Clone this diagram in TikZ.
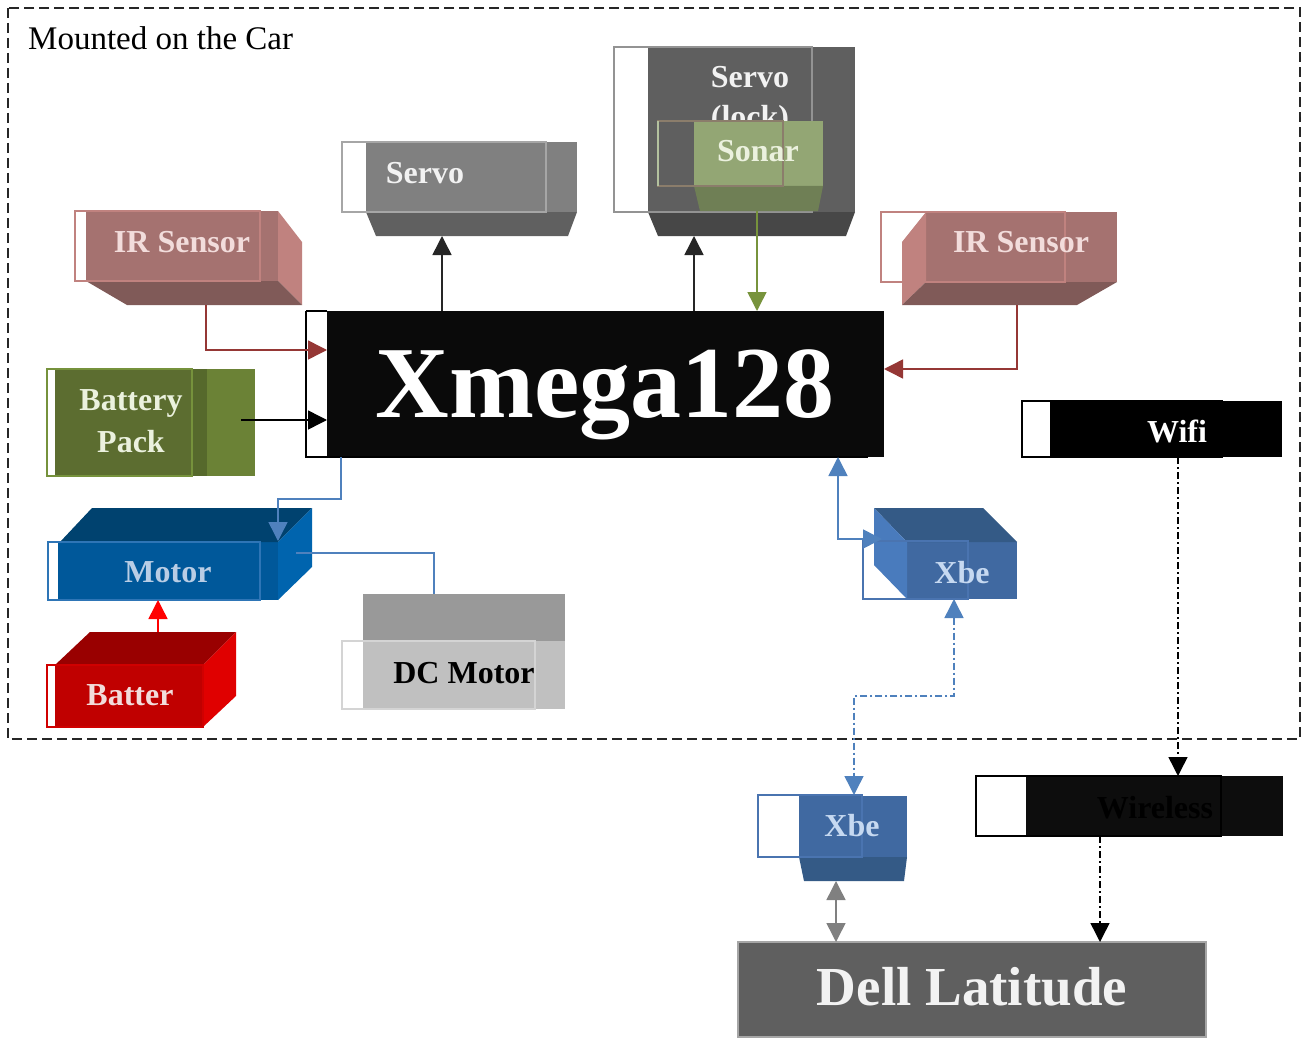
\documentclass[tikz,border=0pt]{standalone}
\usepackage{fontspec}
\setmainfont{Liberation Serif}
\usetikzlibrary{arrows.meta,calc}
\definecolor{gA}{HTML}{808080}
\definecolor{gB}{HTML}{606060}
\definecolor{gC}{HTML}{5F5F5F}
\definecolor{gD}{HTML}{474747}
\definecolor{snA}{HTML}{93A674}
\definecolor{snB}{HTML}{6F7F55}
\definecolor{snO}{HTML}{8B7D6B}
\definecolor{irA}{HTML}{A57270}
\definecolor{irB}{HTML}{C0827F}
\definecolor{irC}{HTML}{805A58}
\definecolor{olA}{HTML}{5C6D30}
\definecolor{olB}{HTML}{56692C}
\definecolor{olC}{HTML}{6B8236}
\definecolor{olO}{HTML}{76923C}
\definecolor{mbA}{HTML}{00426F}
\definecolor{mbB}{HTML}{00589A}
\definecolor{mbC}{HTML}{0064AE}
\definecolor{mbO}{HTML}{2E75B6}
\definecolor{rdA}{HTML}{990000}
\definecolor{rdB}{HTML}{C00000}
\definecolor{rdC}{HTML}{E00000}
\definecolor{rdO}{HTML}{D00000}
\definecolor{dcA}{HTML}{999999}
\definecolor{dcB}{HTML}{C0C0C0}
\definecolor{dcO}{HTML}{D4D4D4}
\definecolor{xbA}{HTML}{345A86}
\definecolor{xbB}{HTML}{4069A1}
\definecolor{xbC}{HTML}{497BBD}
\definecolor{xbO}{HTML}{4A74B0}
\definecolor{lnB}{HTML}{4F81BD}
\definecolor{lnR}{HTML}{953735}
\definecolor{lnG}{HTML}{77933C}
\definecolor{dlO}{HTML}{A6A6A6}
\definecolor{txG}{HTML}{F2F2F2}
\definecolor{txR}{HTML}{F2DCDB}
\definecolor{txO}{HTML}{EBF1DE}
\definecolor{txB}{HTML}{B9CDE5}
\definecolor{txX}{HTML}{C6D9F1}
\begin{document}
\begin{tikzpicture}[x=1pt,y=-1pt,
  lbl/.style={font=\fontsize{32}{38}\selectfont\bfseries, inner sep=0pt, anchor=base},
  blk/.style={draw=none, inner sep=0pt, outer sep=0pt},
  con/.style={line width=1.5pt},
  tipA/.style={-{Triangle[length=19pt,width=19pt]}},
  tipB/.style={{Triangle[length=19pt,width=19pt]}-{Triangle[length=19pt,width=19pt]}},
  dd/.style={dash pattern=on 7pt off 3pt on 2pt off 3pt},
  frame/.style={line width=1.5pt}]
\useasboundingbox (0,0) rectangle (1302,1038);
\fill[white] (0,0) rectangle (1302,1038);

% outer dashed frame
\draw[line width=1.5pt, color=black!85, dash pattern=on 10pt off 5pt] (8,8) rectangle (1300,739);
\node[font=\fontsize{33}{38}\selectfont, inner sep=0pt, anchor=base west] (title) at (28,50) {Mounted on the Car};

% ---- Servo (lock)
\node[blk, fill=gC, minimum width=207pt, minimum height=165pt] (servolock) at (751.5,129.5) {};
\fill[gD] (648,212) -- (855,212) -- (846,236) -- (658,236) -- cycle;
\fill[white] (614,47) rectangle (648,212);
\draw[frame, color=gA!85] (614,47) rectangle (812,212);
\node[lbl, text=txG] (servolockt) at (750,88) {Servo};
\node[lbl, text=txG] (servolockt2) at (750,128) {(lock)};

% ---- Sonar
\node[blk, fill=snA, minimum width=129pt, minimum height=65pt] (sonar) at (758.5,153.5) {};
\fill[snB] (694,186) -- (823,186) -- (818,211) -- (700,211) -- cycle;
\draw[frame, color=snO] (658,121) rectangle (783,186);
\draw[frame, color=snA!70!white] (658,121) -- (658,186);
\node[lbl, text=txO] (sonart) at (758,162) {Sonar};

% ---- Servo
\node[blk, fill=gA, minimum width=211pt, minimum height=70pt] (servo) at (471.5,177) {};
\fill[gB] (366,212) -- (577,212) -- (568,236) -- (376,236) -- cycle;
\fill[white] (342,142) rectangle (366,212);
\draw[frame, color=gA!70!white] (342,142) rectangle (546,212);
\node[lbl, text=txG] (servot) at (425,184) {Servo};

% ---- IR Sensor left
\node[blk, fill=irA, minimum width=192pt, minimum height=70pt] (irl) at (182,246) {};
\fill[irB] (278,211) -- (302,242) -- (302,305) -- (278,281) -- cycle;
\fill[irC] (86,281) -- (278,281) -- (302,305) -- (127,305) -- cycle;
\fill[white] (75,211) rectangle (86,281);
\draw[frame, color=irB] (75,211) rectangle (260,281);
\node[lbl, text=txR] (irlt) at (182,252) {IR Sensor};

% ---- IR Sensor right
\node[blk, fill=irA, minimum width=191pt, minimum height=70pt] (irr) at (1021.5,247) {};
\fill[irB] (902,242) -- (926,212) -- (926,282) -- (902,305) -- cycle;
\fill[irC] (926,282) -- (1117,282) -- (1077,305) -- (902,305) -- cycle;
\draw[frame, color=irB] (881,212) rectangle (1065,282);
\node[lbl, text=txR] (irrt) at (1021,252) {IR Sensor};

% ---- Xmega128
\node[blk, fill=black!96, minimum width=557pt, minimum height=146pt] (xmega) at (605.5,384) {};
\node[inner sep=0pt, anchor=base, text=white, font=\fontsize{102}{110}\selectfont\bfseries] (xmegat) at (605,417) {Xmega128};
\fill[white] (306,311) rectangle (327,457);
\draw[frame] (306,311) -- (306,457) -- (868,457);
\draw[frame] (306,311) -- (327,311);

% ---- Battery Pack
\node[blk, fill=olA, minimum width=200pt, minimum height=107pt] (batp) at (155,422.5) {};
\fill[olB] (192,369) rectangle (207,476);
\fill[olC] (207,369) rectangle (255,476);
\fill[white] (47,369) rectangle (55,476);
\draw[frame, color=olO] (47,369) rectangle (192,476);
\node[lbl, text=txO] (batpt1) at (131,410) {Battery};
\node[lbl, text=txO] (batpt2) at (131,452) {Pack};

% ---- Motor
\node[blk, fill=mbB, minimum width=220pt, minimum height=58pt] (motor) at (168,571) {};
\fill[mbA] (60,542) -- (92,508) -- (312,508) -- (278,542) -- cycle;
\fill[mbC] (278,542) -- (312,508) -- (312,567) -- (278,600) -- cycle;
\fill[white] (48,542) rectangle (58,600);
\draw[frame, color=mbO] (48,542) rectangle (260,600);
\node[lbl, text=txB] (motort) at (168,582) {Motor};

% ---- Batter
\node[blk, fill=rdB, minimum width=148pt, minimum height=62pt] (batt) at (129,696) {};
\fill[rdA] (55,665) -- (90,632) -- (236,632) -- (203,665) -- cycle;
\fill[rdC] (203,665) -- (236,632) -- (236,696) -- (203,727) -- cycle;
\fill[white] (47,665) rectangle (55,727);
\draw[frame, color=rdO] (47,665) rectangle (203,727);
\node[lbl, text=txR] (battt) at (130,705) {Batter};

% ---- DC Motor
\fill[dcA] (363,594) rectangle (565,641);
\node[blk, fill=dcB, minimum width=202pt, minimum height=68pt] (dcm) at (464,675) {};
\fill[white] (342,641) rectangle (363,709);
\draw[frame, color=dcO] (342,641) rectangle (535,709);
\node[lbl, text=black] (dcmt) at (464,683) {DC Motor};

% ---- Xbe (car)
\node[blk, fill=xbB, minimum width=110pt, minimum height=57pt] (xbe) at (962,570.5) {};
\fill[xbA] (874,508) -- (983,508) -- (1017,542) -- (907,542) -- cycle;
\fill[xbC] (874,508) -- (907,542) -- (907,599) -- (874,565) -- cycle;
\draw[frame, color=xbO] (863,541) rectangle (968,599);
\node[lbl, text=txX] (xbet) at (962,583) {Xbe};

% ---- Xbe (laptop)
\node[blk, fill=xbB, minimum width=108pt, minimum height=61pt] (xbe2) at (853,826.5) {};
\fill[xbA] (799,857) -- (907,857) -- (904,881) -- (804,881) -- cycle;
\fill[white] (758,795) rectangle (799,857);
\draw[frame, color=xbO] (758,795) rectangle (862,857);
\node[lbl, text=txX] (xbe2t) at (852,836) {Xbe};

% ---- Wifi
\node[blk, fill=black, minimum width=232pt, minimum height=56pt] (wifi) at (1166,429) {};
\fill[white] (1022,401) rectangle (1050,457);
\draw[frame] (1022,401) rectangle (1222,457);
\node[lbl, text=white] (wifit) at (1177,442) {Wifi};

% ---- Wireless
\node[blk, fill=black!95, minimum width=257pt, minimum height=60pt] (wless) at (1154.5,806) {};
\fill[white] (976,776) rectangle (1026,836);
\draw[frame] (976,776) rectangle (1221,836);
\node[lbl, text=black] (wlesst) at (1155,818) {Wireless};

% ---- Dell Latitude
\node[blk, fill=gC, draw=dlO, line width=1.5pt, minimum width=468pt, minimum height=95pt] (dell) at (972,989.5) {};
\node[inner sep=0pt, anchor=base, text=txG, font=\fontsize{55}{60}\selectfont\bfseries] (dellt) at (972,1005) {Dell Latitude};

% ---- connector end points
\coordinate (servoB) at (442,236);
\coordinate (lockB) at (694,236);
\coordinate (sonarB) at (757,211);
\coordinate (irlB) at (206,305);
\coordinate (xin1) at (327,350);
\coordinate (irrB) at (1017,305);
\coordinate (xin2) at (884,369);
\coordinate (batS) at (241,420);
\coordinate (xout1) at (341,457);
\coordinate (motT) at (278,541);
\coordinate (motR) at (296,553);
\coordinate (dcT) at (434,594);
\coordinate (battT) at (158,632);
\coordinate (xout2) at (838,457);
\coordinate (xbeL) at (882,539);
\coordinate (xbeB) at (954,599);
\coordinate (xbe2T) at (854,795);
\coordinate (xbe2B) at (836,881);
\coordinate (wfx) at (1178,457);
\coordinate (wlx) at (1100,836);

% ---- connectors
\draw[con, tipA, color=black!85] (xmega.north -| servoB) -- (servoB);
\draw[con, tipA, color=black!85] (xmega.north -| lockB) -- (lockB);
\draw[con, tipA, color=lnG] (sonarB) -- (sonarB |- xmega.north);
\draw[con, tipA, color=lnR] (irlB) |- (xin1);
\draw[con, tipA, color=lnR] (irrB) |- (xin2);
\draw[con, tipA, color=black] (batS) -- (batS -| xmega.west);
\draw[con, tipA, color=lnB] (xout1) -- ++(0,42) -| (motT);
\draw[con, color=lnB] (motR) -| (dcT);
\draw[con, tipA, color=red] (battT) -- (battT |- motor.south);
\draw[con, tipB, color=lnB] (xout2) |- (xbeL);
\draw[con, tipB, dd, color=lnB] (xbeB) -- ++(0,97) -| (xbe2T);
\draw[con, tipB, color=gA] (xbe2B) -- (xbe2B |- dell.north);
\draw[con, tipA, dd, color=black] (wfx) -- (wfx |- wless.north);
\draw[con, tipA, dd, color=black] (wlx) -- (wlx |- dell.north);
\end{tikzpicture}
\end{document}
